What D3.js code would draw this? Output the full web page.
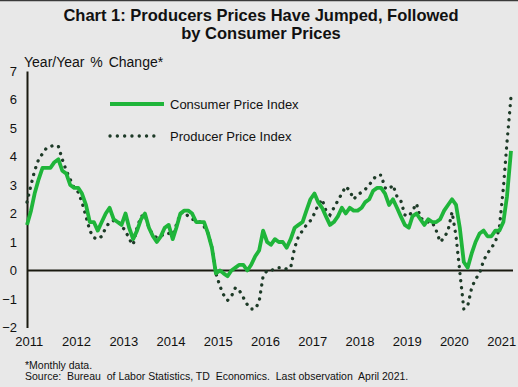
<!DOCTYPE html>
<html>
<head>
<meta charset="utf-8">
<script src="https://cdn.jsdelivr.net/npm/d3@7"></script>
<style>
  body { margin: 0; background: #e8e8e8; }
  svg { display: block; font-family: "Liberation Sans", Arial, sans-serif; }
</style>
</head>
<body>
<div id="chart"></div>
<script>
// monthly y/y % change, Jan 2011 .. Apr 2021
var cpi = [
  1.6, 2.1, 2.7, 3.2, 3.6, 3.6, 3.6, 3.8, 3.9, 3.5, 3.4, 3.0,
  2.9, 2.9, 2.7, 2.3, 1.7, 1.7, 1.4, 1.7, 2.0, 2.2, 1.8, 1.7,
  1.6, 2.0, 1.5, 1.1, 1.4, 1.8, 2.0, 1.5, 1.2, 1.0, 1.2, 1.5,
  1.6, 1.1, 1.5, 2.0, 2.1, 2.1, 2.0, 1.7, 1.7, 1.7, 1.3, 0.8,
  -0.1, 0.0, -0.1, -0.2, 0.0, 0.1, 0.2, 0.2, 0.0, 0.2, 0.5, 0.7,
  1.4, 1.0, 0.9, 1.1, 1.0, 1.0, 0.8, 1.1, 1.5, 1.6, 1.7, 2.1,
  2.5, 2.7, 2.4, 2.2, 1.9, 1.6, 1.7, 1.9, 2.2, 2.0, 2.2, 2.1,
  2.1, 2.2, 2.4, 2.5, 2.8, 2.9, 2.9, 2.7, 2.3, 2.5, 2.2, 1.9,
  1.6, 1.5, 1.9, 2.0, 1.8, 1.6, 1.8, 1.7, 1.7, 1.8, 2.1, 2.3,
  2.5, 2.3, 1.5, 0.3, 0.1, 0.6, 1.0, 1.3, 1.4, 1.2, 1.2, 1.4,
  1.4, 1.7, 2.6, 4.2
]
var ppi = [
  2.4, 3.0, 3.5, 3.9, 4.1, 4.3, 4.35, 4.4, 4.35, 3.9, 3.5, 3.2,
  2.9, 2.75, 2.4, 1.9, 1.4, 1.15, 1.1, 1.2, 1.5, 1.7, 1.75, 1.75,
  1.55, 1.4, 1.1, 0.9, 1.5, 1.9, 1.95, 1.5, 1.25, 1.15, 1.2, 1.3,
  1.3, 1.25, 1.6, 2.0, 2.05, 1.9, 1.8, 1.75, 1.7, 1.55, 1.3, 0.8,
  -0.1, -0.55, -0.85, -1.05, -0.9, -0.6, -0.7, -0.95, -1.2, -1.35, -1.35, -1.1,
  -0.2, 0.0, 0.0, 0.05, 0.1, 0.1, 0.05, 0.1, 0.8, 1.2, 1.4, 1.6,
  1.75, 2.0, 2.3, 2.5, 2.1, 1.95, 2.2, 2.45, 2.7, 2.95, 2.8, 2.5,
  2.65, 2.75, 2.85, 3.0, 3.2, 3.35, 3.35, 2.9, 2.85, 3.0, 2.6, 2.45,
  1.95, 1.9, 2.1, 2.35, 1.85, 1.75, 1.7, 1.7, 1.4, 1.0, 1.15, 1.4,
  2.05, 1.2, -0.05, -1.35, -1.25, -0.6, -0.3, -0.1, 0.35, 0.6, 0.8, 1.0,
  1.5, 2.9, 4.5, 6.1
]
var years = [2011, 2012, 2013, 2014, 2015, 2016, 2017, 2018, 2019, 2020, 2021]
var yTicks = [-2, -1, 0, 1, 2, 3, 4, 5, 6, 7]
var seriesNames = ["Consumer Price Index", "Producer Price Index"]

var w = 518, h = 387
var green = "#1fb53a", dotColor = "#1d3a27"

var months = cpi.map(function(d, i) { return new Date(2011, i, 1) })

var svg = d3.select("#chart").append("svg")
  .attr("width", w).attr("height", h)

svg.append("rect").attr("width", w).attr("height", h).attr("fill", "#e8e8e8")
svg.append("line").attr("x1", 0).attr("x2", w).attr("y1", 0.5).attr("y2", 0.5)
  .attr("stroke", "#3a3a3a").attr("stroke-width", 1.5)

var x = d3.scaleTime()
  .domain([months[0], months[months.length - 1]])
  .range([27, 511])
var y = d3.scaleLinear().domain([-2, 7]).range([327.5, 71])

// title
svg.append("text").attr("x", 261).attr("y", 21).attr("text-anchor", "middle")
  .attr("font-size", "16.5px").attr("font-weight", "bold").attr("fill", "#111")
  .text("Chart 1: Producers Prices Have Jumped, Followed")
svg.append("text").attr("x", 261).attr("y", 39).attr("text-anchor", "middle")
  .attr("font-size", "16.5px").attr("font-weight", "bold").attr("fill", "#111")
  .text("by Consumer Prices")

svg.append("text").attr("x", 24).attr("y", 67)
  .attr("font-size", "14px").attr("fill", "#111").attr("word-spacing", "2px")
  .text("Year/Year % Change*")

// y axis
var yAxis = d3.axisLeft(y).tickValues(yTicks).tickSize(0).tickPadding(10)
var gy = svg.append("g").attr("transform", "translate(27,0)").call(yAxis)
gy.select(".domain").attr("stroke", "#1a1a10").attr("stroke-width", 2)
gy.selectAll("text").attr("font-size", "13px").attr("fill", "#111")
  .attr("font-family", "Liberation Sans, Arial, sans-serif")

// x axis labels (no line, no ticks)
var xAxis = d3.axisBottom(x)
  .tickValues(years.map(function(yr) { return new Date(yr, 0, 15) }))
  .tickFormat(d3.timeFormat("%Y")).tickSize(0).tickPadding(8)
var gx = svg.append("g").attr("transform", "translate(0,329)").call(xAxis)
gx.select(".domain").remove()
gx.selectAll("text").attr("font-size", "13px").attr("fill", "#111")
  .attr("font-family", "Liberation Sans, Arial, sans-serif")

// zero line
svg.append("line").attr("x1", 27).attr("x2", 513)
  .attr("y1", y(0)).attr("y2", y(0))
  .attr("stroke", "#1a1a10").attr("stroke-width", 2)

var line = d3.line()
  .x(function(d, i) { return x(months[i]) })
  .y(function(d) { return y(d) })

svg.append("path").datum(ppi).attr("d", line)
  .attr("fill", "none").attr("stroke", dotColor).attr("stroke-width", 3.3)
  .attr("stroke-linecap", "round").attr("stroke-dasharray", "0.1 7")

svg.append("path").datum(cpi).attr("d", line)
  .attr("fill", "none").attr("stroke", green).attr("stroke-width", 3.8)
  .attr("stroke-linejoin", "round")

// legend
var legend = svg.append("g")
legend.append("line").attr("x1", 110).attr("x2", 164).attr("y1", 104).attr("y2", 104)
  .attr("stroke", green).attr("stroke-width", 3.8)
legend.append("line").attr("x1", 110).attr("x2", 161).attr("y1", 136).attr("y2", 136)
  .attr("stroke", dotColor).attr("stroke-width", 3.3)
  .attr("stroke-linecap", "round").attr("stroke-dasharray", "0.1 7.2")
legend.selectAll("text.lg").data(seriesNames).enter().append("text")
  .attr("x", 170).attr("y", function(d, i) { return 108.5 + i * 32 })
  .attr("font-size", "13px").attr("fill", "#111")
  .text(function(d) { return d })

// footnotes
svg.append("text").attr("x", 25).attr("y", 368.5)
  .attr("font-size", "10.5px").attr("fill", "#111")
  .text("*Monthly  data.")
svg.append("text").attr("x", 25).attr("y", 380)
  .attr("font-size", "10.5px").attr("fill", "#111").attr("xml:space", "preserve")
  .style("white-space", "pre")
  .text("Source:  Bureau  of Labor Statistics, TD  Economics.  Last observation  April 2021.")
</script>
</body>
</html>
